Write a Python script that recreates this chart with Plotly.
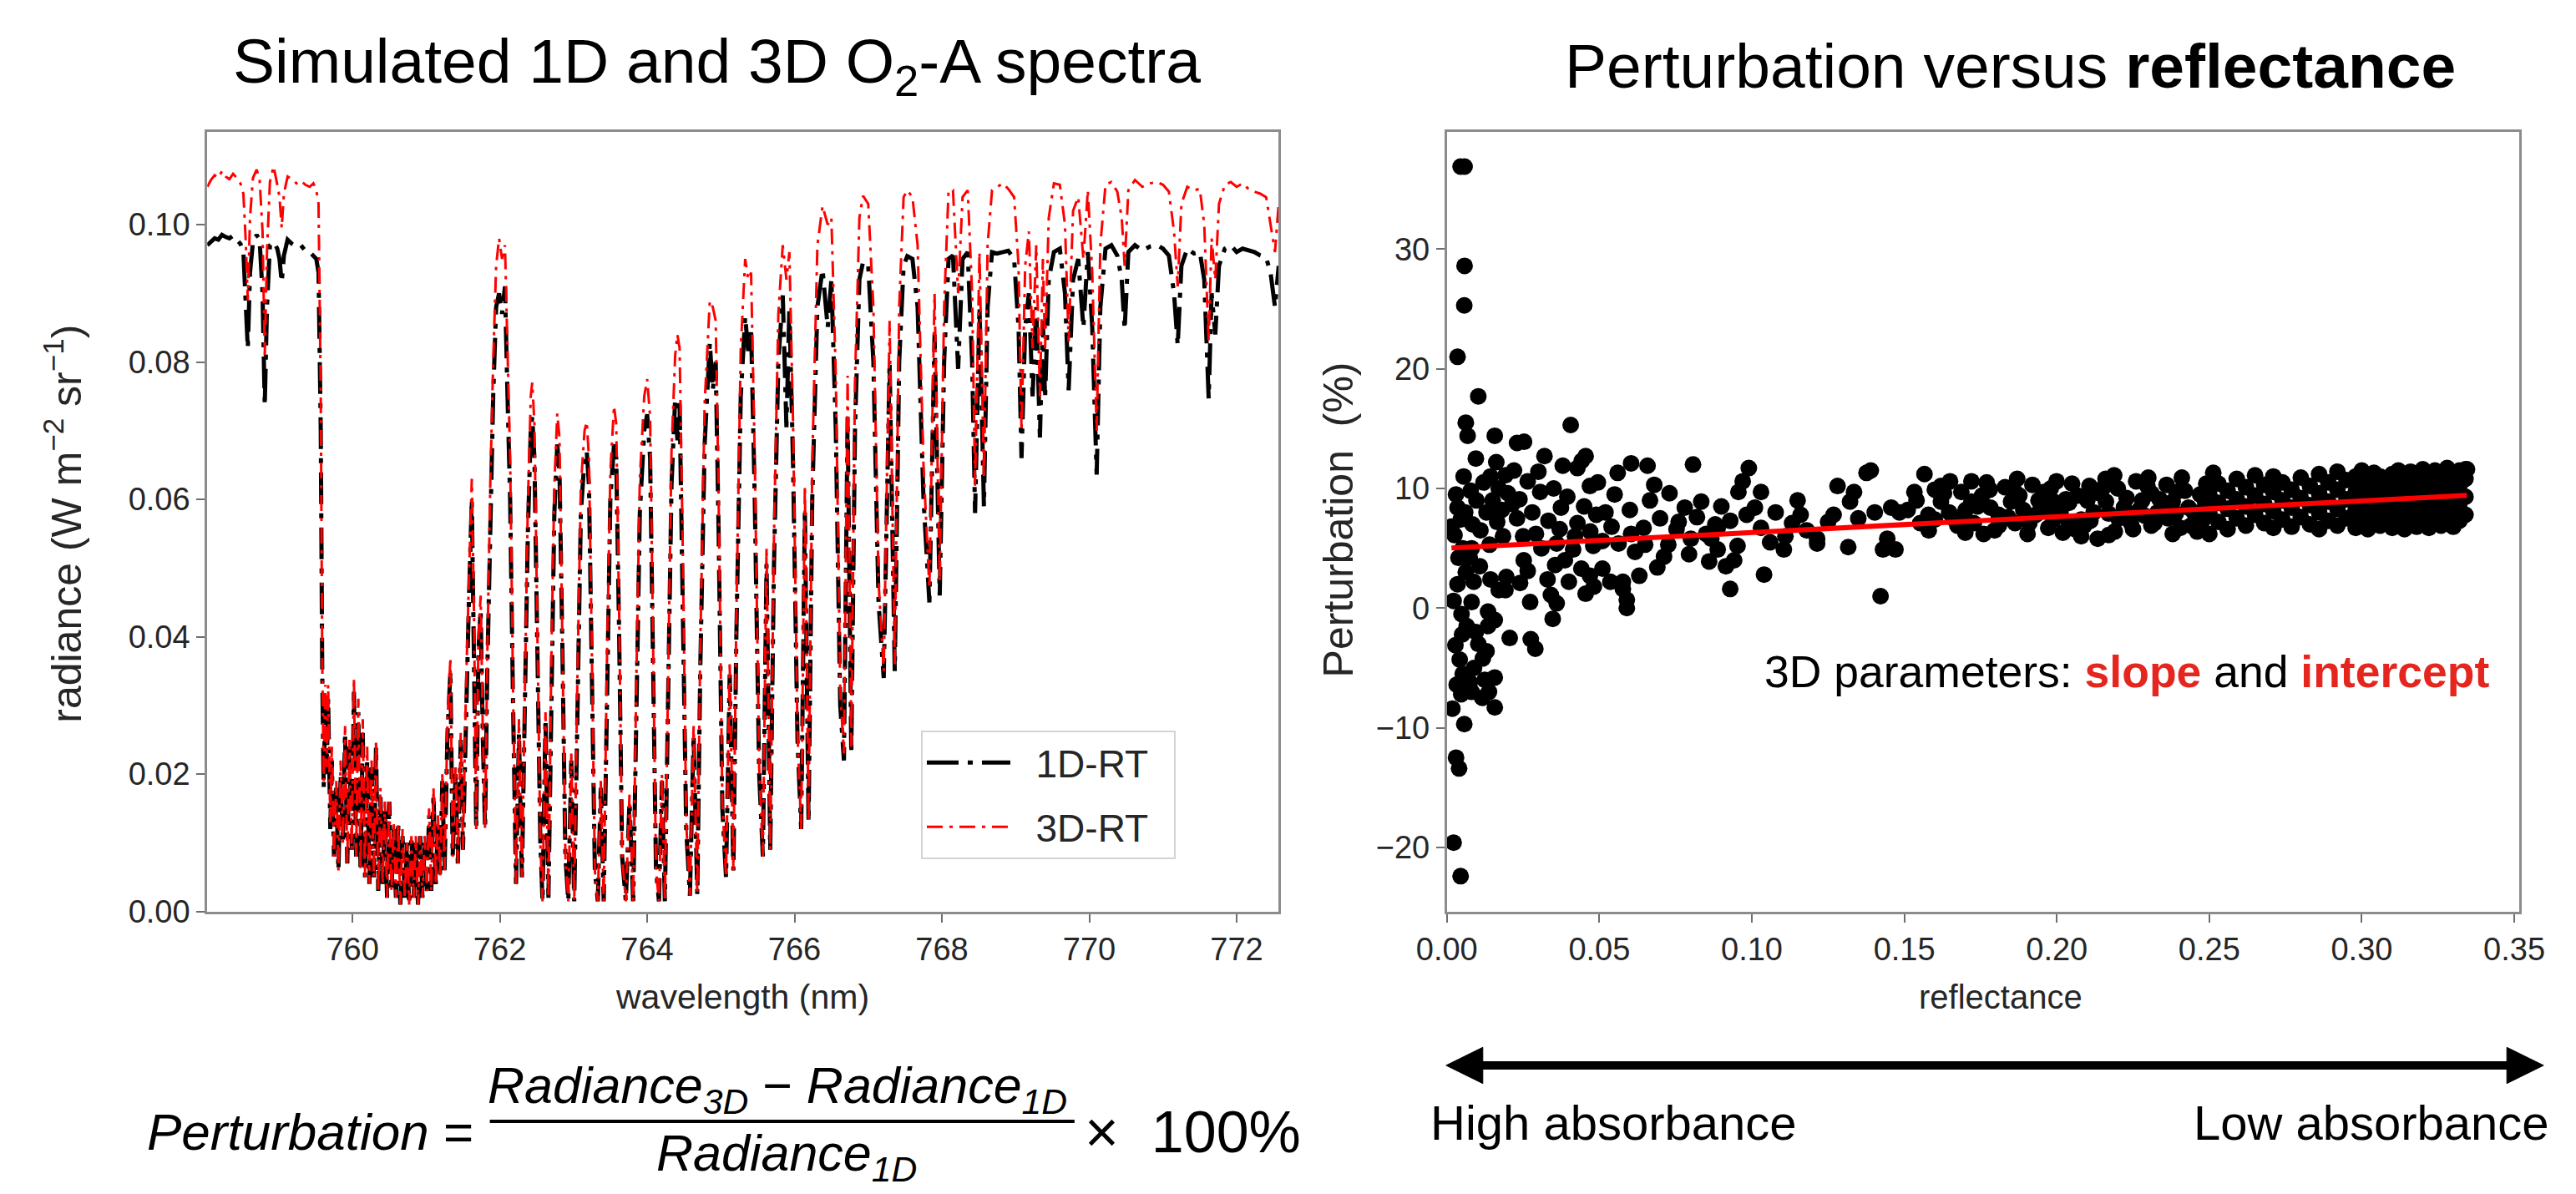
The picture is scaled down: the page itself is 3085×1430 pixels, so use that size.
import plotly.graph_objects as go

W, H = 3085, 1430
FONT = "Liberation Sans, Arial, Helvetica, sans-serif"


def px(x):
    return x / W


def py(y):
    return (H - y) / H


# ---------------- Spectrum data ----------------
# Segment A: continuum before the band head
wl_a = [758.03, 758.08, 758.13, 758.18, 758.23, 758.28, 758.33, 758.38, 758.43, 758.48,
        758.52, 758.55, 758.58, 758.61, 758.65, 758.70, 758.74, 758.78, 758.81, 758.84,
        758.88, 758.93, 758.98, 759.01, 759.04, 759.07, 759.12, 759.18, 759.24, 759.30,
        759.36, 759.42, 759.47, 759.51, 759.54]
r1d_a = [0.0970, 0.0975, 0.0980, 0.0978, 0.0985, 0.0982, 0.0980, 0.0984, 0.0978, 0.0972,
         0.0960, 0.0900, 0.0820, 0.0930, 0.0975, 0.0985, 0.0978, 0.0900, 0.0736, 0.0880,
         0.0970, 0.0975, 0.0965, 0.0950, 0.0916, 0.0955, 0.0978, 0.0972, 0.0968, 0.0970,
         0.0962, 0.0960, 0.0955, 0.0950, 0.0930]
r3d_a = [0.1055, 0.1065, 0.1072, 0.1068, 0.1078, 0.1070, 0.1066, 0.1074, 0.1068, 0.1060,
         0.1045, 0.0980, 0.0890, 0.1010, 0.1068, 0.1080, 0.1066, 0.0990, 0.0810, 0.0960,
         0.1062, 0.1085, 0.1058, 0.1040, 0.0995, 0.1045, 0.1070, 0.1066, 0.1060, 0.1064,
         0.1058, 0.1055, 0.1060, 0.1050, 0.1030]

# Segment B: R-branch (759.6 - 762.2 nm)
wl_b = [759.57, 759.59, 759.61, 759.63, 759.65, 759.67, 759.70, 759.72, 759.75, 759.78,
        759.81, 759.84, 759.87, 759.90, 759.93, 759.96, 759.99, 760.02, 760.05, 760.08,
        760.11, 760.14, 760.17, 760.20, 760.23, 760.26, 760.29, 760.32, 760.35, 760.38,
        760.41, 760.44, 760.47, 760.50, 760.53, 760.56, 760.59, 760.62, 760.65, 760.68,
        760.71, 760.74, 760.77, 760.80, 760.83, 760.86, 760.89, 760.92, 760.95, 760.98,
        761.01, 761.04, 761.07, 761.10, 761.13, 761.16, 761.19, 761.22, 761.25, 761.29,
        761.33, 761.36, 761.40, 761.43, 761.47, 761.50, 761.54, 761.58, 761.62, 761.65,
        761.68, 761.71, 761.74, 761.77, 761.80, 761.83, 761.87, 761.91, 761.95, 761.99,
        762.03, 762.07, 762.10, 762.14, 762.18, 762.22]
r1d_b = [0.070, 0.035, 0.018, 0.030, 0.020, 0.031, 0.012, 0.022, 0.008, 0.018,
         0.006, 0.020, 0.010, 0.026, 0.007, 0.024, 0.009, 0.032, 0.008, 0.029,
         0.006, 0.026, 0.005, 0.022, 0.004, 0.021, 0.005, 0.024, 0.003, 0.017,
         0.004, 0.015, 0.002, 0.016, 0.003, 0.012, 0.002, 0.013, 0.001, 0.011,
         0.002, 0.010, 0.001, 0.011, 0.002, 0.010, 0.001, 0.011, 0.002, 0.010,
         0.003, 0.014, 0.003, 0.017, 0.004, 0.013, 0.005, 0.019, 0.006, 0.026,
         0.035, 0.008, 0.020, 0.007, 0.025, 0.009, 0.030, 0.045, 0.060, 0.040,
         0.012, 0.038, 0.044, 0.025, 0.012, 0.035, 0.058, 0.075, 0.088, 0.090,
         0.087, 0.091, 0.077, 0.060, 0.030, 0.004]
r3d_b = [0.075, 0.037, 0.019, 0.033, 0.021, 0.033, 0.013, 0.024, 0.008, 0.019,
         0.006, 0.022, 0.010, 0.027, 0.007, 0.025, 0.009, 0.034, 0.008, 0.031,
         0.006, 0.028, 0.005, 0.024, 0.004, 0.022, 0.005, 0.025, 0.003, 0.018,
         0.004, 0.016, 0.002, 0.016, 0.003, 0.013, 0.002, 0.013, 0.001, 0.012,
         0.002, 0.010, 0.001, 0.011, 0.002, 0.011, 0.001, 0.011, 0.002, 0.011,
         0.003, 0.015, 0.003, 0.018, 0.004, 0.014, 0.005, 0.020, 0.006, 0.028,
         0.037, 0.008, 0.021, 0.007, 0.026, 0.009, 0.032, 0.048, 0.063, 0.043,
         0.012, 0.040, 0.046, 0.026, 0.012, 0.037, 0.062, 0.080, 0.094, 0.098,
         0.095, 0.097, 0.085, 0.066, 0.032, 0.004]

# Segment C: P-branch doublets and weak lines (762.26 - 772.57 nm)
wl_c = [762.26, 762.30, 762.34, 762.38, 762.42, 762.44, 762.47, 762.51, 762.55, 762.58,
        762.62, 762.66, 762.70, 762.74, 762.78, 762.81, 762.85, 762.89, 762.93, 762.97,
        763.01, 763.05, 763.10, 763.15, 763.18, 763.21, 763.25, 763.29, 763.33, 763.37,
        763.41, 763.45, 763.50, 763.55, 763.58, 763.62, 763.66, 763.71, 763.76, 763.81,
        763.85, 763.90, 763.96, 764.00, 764.04, 764.08, 764.12, 764.16, 764.20, 764.24,
        764.28, 764.33, 764.38, 764.41, 764.44, 764.48, 764.53, 764.58, 764.63, 764.68,
        764.72, 764.78, 764.85, 764.89, 764.93, 764.97, 765.02, 765.07, 765.12, 765.17,
        765.21, 765.27, 765.33, 765.37, 765.41, 765.46, 765.52, 765.57, 765.62, 765.67,
        765.72, 765.78, 765.84, 765.89, 765.93, 765.98, 766.04, 766.09, 766.14, 766.19,
        766.24, 766.31, 766.38, 766.45, 766.50, 766.56, 766.62, 766.67, 766.72, 766.77,
        766.82, 766.88, 766.93, 767.00, 767.07, 767.14, 767.21, 767.29, 767.36, 767.42,
        767.48, 767.53, 767.60, 767.67, 767.75, 767.83, 767.90, 767.97, 768.03, 768.09,
        768.15, 768.22, 768.28, 768.35, 768.41, 768.45, 768.51, 768.57, 768.62, 768.68,
        768.75, 768.83, 768.90, 768.98, 769.04, 769.08, 769.13, 769.18, 769.23, 769.28,
        769.33, 769.37, 769.40, 769.45, 769.52, 769.60, 769.67, 769.72, 769.78, 769.85,
        769.92, 769.98, 770.04, 770.10, 770.15, 770.22, 770.30, 770.38, 770.44, 770.48,
        770.53, 770.62, 770.72, 770.82, 770.92, 771.00, 771.08, 771.15, 771.20, 771.25,
        771.33, 771.42, 771.50, 771.56, 771.62, 771.66, 771.71, 771.76, 771.84, 771.92,
        772.00, 772.08, 772.16, 772.24, 772.32, 772.40, 772.46, 772.52, 772.57]
r1d_c = [0.026, 0.005, 0.030, 0.055, 0.070, 0.072, 0.066, 0.040, 0.010, 0.0015,
         0.028, 0.002, 0.035, 0.058, 0.068, 0.064, 0.038, 0.008, 0.0015, 0.022,
         0.0015, 0.030, 0.058, 0.066, 0.067, 0.062, 0.035, 0.006, 0.0015, 0.018,
         0.0015, 0.032, 0.060, 0.068, 0.066, 0.040, 0.008, 0.0015, 0.016, 0.0015,
         0.030, 0.058, 0.070, 0.0724, 0.066, 0.038, 0.006, 0.0015, 0.019, 0.0015,
         0.030, 0.062, 0.0747, 0.0686, 0.074, 0.050, 0.012, 0.0023, 0.0257, 0.0025,
         0.035, 0.068, 0.0828, 0.0759, 0.080, 0.055, 0.015, 0.005, 0.0345, 0.006,
         0.040, 0.075, 0.0866, 0.0816, 0.085, 0.060, 0.020, 0.008, 0.0506, 0.009,
         0.050, 0.080, 0.0897, 0.0705, 0.088, 0.065, 0.025, 0.012, 0.0586, 0.013,
         0.060, 0.088, 0.0935, 0.085, 0.092, 0.070, 0.030, 0.022, 0.072, 0.023,
         0.070, 0.092, 0.0946, 0.094, 0.080, 0.045, 0.034, 0.080, 0.035, 0.080,
         0.094, 0.0954, 0.095, 0.088, 0.060, 0.045, 0.084, 0.046, 0.080, 0.095,
         0.0955, 0.079, 0.095, 0.096, 0.080, 0.058, 0.088, 0.059, 0.088, 0.096,
         0.0958, 0.096, 0.0962, 0.095, 0.085, 0.066, 0.085, 0.090, 0.075, 0.088,
         0.069, 0.086, 0.0747, 0.092, 0.096, 0.0965, 0.090, 0.0759, 0.092, 0.095,
         0.085, 0.096, 0.085, 0.0636, 0.088, 0.0965, 0.097, 0.0955, 0.092, 0.0847,
         0.096, 0.097, 0.0962, 0.0968, 0.097, 0.0965, 0.0955, 0.090, 0.0824, 0.094,
         0.0965, 0.0958, 0.096, 0.092, 0.0747, 0.090, 0.084, 0.094, 0.0965, 0.097,
         0.096, 0.0965, 0.0962, 0.096, 0.0955, 0.0952, 0.093, 0.088, 0.094]
r3d_c = [0.028, 0.005, 0.032, 0.059, 0.075, 0.077, 0.071, 0.043, 0.010, 0.0015,
         0.029, 0.002, 0.037, 0.062, 0.0725, 0.069, 0.041, 0.008, 0.0015, 0.023,
         0.0015, 0.032, 0.062, 0.070, 0.0713, 0.066, 0.037, 0.006, 0.0015, 0.019,
         0.0015, 0.034, 0.064, 0.0736, 0.071, 0.043, 0.008, 0.0015, 0.017, 0.0015,
         0.032, 0.063, 0.075, 0.0775, 0.072, 0.041, 0.006, 0.0015, 0.020, 0.0015,
         0.032, 0.067, 0.081, 0.084, 0.082, 0.055, 0.013, 0.0023, 0.027, 0.0025,
         0.038, 0.074, 0.0889, 0.088, 0.086, 0.060, 0.016, 0.005, 0.036, 0.006,
         0.043, 0.082, 0.095, 0.092, 0.093, 0.066, 0.021, 0.008, 0.053, 0.009,
         0.054, 0.087, 0.097, 0.092, 0.096, 0.071, 0.026, 0.012, 0.062, 0.013,
         0.065, 0.097, 0.1027, 0.100, 0.101, 0.078, 0.032, 0.023, 0.078, 0.024,
         0.077, 0.101, 0.1042, 0.103, 0.088, 0.048, 0.035, 0.086, 0.036, 0.088,
         0.104, 0.105, 0.104, 0.097, 0.065, 0.047, 0.090, 0.048, 0.088, 0.105,
         0.105, 0.090, 0.104, 0.105, 0.090, 0.062, 0.096, 0.063, 0.097, 0.105,
         0.1055, 0.106, 0.1052, 0.104, 0.094, 0.070, 0.094, 0.099, 0.082, 0.097,
         0.075, 0.095, 0.082, 0.101, 0.106, 0.1058, 0.100, 0.083, 0.102, 0.104,
         0.095, 0.105, 0.093, 0.070, 0.097, 0.1058, 0.1062, 0.1048, 0.101, 0.094,
         0.105, 0.1065, 0.1055, 0.106, 0.1062, 0.1058, 0.1048, 0.099, 0.091, 0.103,
         0.1055, 0.105, 0.1052, 0.100, 0.083, 0.098, 0.092, 0.103, 0.1058, 0.1062,
         0.1055, 0.106, 0.1052, 0.1048, 0.1045, 0.104, 0.100, 0.096, 0.103]

wavelength = wl_a + wl_b + wl_c
radiance_1d = r1d_a + r1d_b + r1d_c
radiance_3d = r3d_a + r3d_b + r3d_c
assert len(wavelength) == len(radiance_1d) == len(radiance_3d)

wl_ticks = [760, 762, 764, 766, 768, 770, 772]
rad_ticks = [0.00, 0.02, 0.04, 0.06, 0.08, 0.10]

# ---------------- Scatter data ----------------
refl_edge = [0.0045, 0.0058, 0.0058, 0.0057, 0.0035, 0.0062, 0.0068, 0.0055, 0.0035, 0.0045,
             0.0025, 0.0052, 0.0038, 0.0062, 0.0022, 0.0048, 0.0065, 0.0028, 0.0042, 0.0052,
             0.0018, 0.0057, 0.0030, 0.0040, 0.0022, 0.0045, 0.0035, 0.0015, 0.0030, 0.0060,
             0.0050, 0.0032, 0.0047]
pert_edge = [36.9, 36.9, 28.6, 25.3, 21.0, 15.5, 14.4, 11.0, 8.4, 7.4,
             6.1, 5.0, 4.2, 3.0, 0.6, -0.5, -1.5, -3.1, -4.3, -5.5,
             -8.4, -9.7, -12.5, -13.4, -19.6, -22.4, 2.0, 6.8, 9.5, 8.0,
             -2.2, -6.4, -7.2]

refl_low = [0.0103, 0.0157, 0.0162, 0.0143, 0.0170, 0.0097, 0.0130, 0.0084, 0.0184, 0.0081,
            0.0108, 0.0143, 0.0170, 0.0081, 0.0157, 0.0135, 0.0103, 0.0130, 0.0089, 0.0124,
            0.0157, 0.0081, 0.0116, 0.0157, 0.0206, 0.0192, 0.0195, 0.0120, 0.0095, 0.0150,
            0.0180, 0.0110, 0.0075, 0.0140, 0.0165, 0.0192, 0.0200, 0.0078, 0.0088, 0.0135,
            0.0095, 0.0118, 0.0075, 0.0138]
pert_low = [17.7, 14.4, 12.2, 11.0, 10.0, 9.0, 8.0, 7.0, 6.0, 5.0,
            3.5, 2.4, 1.5, 0.5, -1.0, -1.5, -3.0, -3.6, -5.0, -6.0,
            -5.8, -7.0, -7.5, -8.3, -2.5, 1.5, 2.6, 10.5, 12.5, 9.0,
            8.2, 6.5, 4.2, 5.3, 7.2, 11.1, 9.6, 9.8, 2.2, -0.3,
            -2.0, -4.2, -6.2, -7.0]

refl_mid = [0.0290, 0.0275, 0.0347, 0.0360, 0.0341, 0.0406, 0.0320, 0.0230, 0.0253, 0.0455,
            0.0428, 0.0442, 0.0469, 0.0265, 0.0306, 0.0238, 0.0374, 0.0333, 0.0428, 0.0292,
            0.0360, 0.0414, 0.0387, 0.0441, 0.0469, 0.0482, 0.0252, 0.0265, 0.0220, 0.0280,
            0.0350, 0.0395, 0.0450, 0.0310, 0.0230, 0.0250, 0.0330, 0.0370, 0.0420, 0.0480,
            0.0490, 0.0400, 0.0455, 0.0215, 0.0300, 0.0380, 0.0355, 0.0273, 0.0240, 0.0495,
            0.0470]
pert_mid = [-3.4, -2.6, -0.9, 0.4, 1.1, 15.3, 12.7, 13.8, 13.9, 12.7,
            11.7, 12.3, 10.2, 10.6, 9.7, 9.1, 8.4, 7.3, 7.1, 6.2,
            5.4, 4.9, 4.0, 3.3, 2.7, 1.8, 4.0, 3.1, 11.5, 8.0,
            10.0, 9.3, 8.5, 5.0, 7.5, 6.0, 2.4, 6.6, 6.0, 5.2,
            7.8, 2.2, 1.2, 8.7, 11.4, 11.9, 3.6, 0.5, 2.1, 10.5,
            6.4]

refl_high = [0.0658, 0.0604, 0.0560, 0.0807, 0.0990, 0.0970, 0.0956, 0.0666, 0.0780, 0.0834,
             0.0820, 0.0604, 0.0645, 0.0699, 0.0753, 0.0563, 0.0617, 0.0712, 0.0726, 0.0794,
             0.0510, 0.0536, 0.0577, 0.0631, 0.0590, 0.0590, 0.0577, 0.0929, 0.0915, 0.0942,
             0.0888, 0.0867, 0.0888, 0.0929, 0.0983, 0.0953, 0.0880, 0.0520, 0.0550, 0.0600,
             0.0540, 0.0680, 0.0730, 0.0760, 0.0850, 0.0900, 0.0690, 0.0800, 0.0860, 0.0510,
             0.0650,
             0.1030, 0.1010, 0.1040, 0.1030, 0.1078, 0.1105, 0.1132, 0.1160, 0.1214, 0.1214,
             0.1268, 0.1281, 0.1322, 0.1316, 0.1349, 0.1376, 0.1390, 0.1335, 0.1422, 0.1430,
             0.1471, 0.1444, 0.1403, 0.1457, 0.1484, 0.1110, 0.1180, 0.1250, 0.1060, 0.1150]
pert_high = [11.9, 12.1, 11.3, 12.0, 11.7, 10.6, 9.7, 9.0, 8.4, 8.9,
             7.6, 6.2, 6.7, 7.5, 6.6, 5.4, 4.7, 4.3, 5.3, 4.5,
             3.3, 2.2, 2.2, 2.7, 0.0, 0.7, 1.6, 1.6, 3.5, 4.0,
             4.9, 5.8, 6.7, 7.3, 7.8, 5.2, 7.0, 8.0, 9.5, 8.2,
             6.8, 10.3, 9.6, 7.2, 6.2, 8.5, 3.4, 5.8, 3.9, 5.6,
             5.3,
             9.7, 8.4, 2.8, 6.7, 8.0, 4.9, 7.1, 7.8, 5.8, 5.4,
             7.8, 10.2, 8.9, 5.1, 7.5, 11.3, 11.5, 9.7, 1.0, 4.9,
             4.9, 5.8, 8.0, 8.4, 8.0, 6.0, 6.5, 7.2, 5.5, 9.0]

refl_bright = [0.1511, 0.1533, 0.1566, 0.1552, 0.1579, 0.1620, 0.1620, 0.1647, 0.1674, 0.1687,
               0.1701, 0.1728, 0.1755, 0.1782, 0.1796, 0.1809, 0.1850, 0.1863, 0.1877, 0.1904,
               0.1931, 0.1958, 0.1972, 0.1999, 0.2012, 0.2040, 0.2067, 0.2080, 0.2107, 0.2121,
               0.2134, 0.2161, 0.2188, 0.2202, 0.2229, 0.2243, 0.2270, 0.2297, 0.2310, 0.2337,
               0.2365, 0.2392, 0.2405, 0.2432, 0.2459, 0.2486,
               0.1580, 0.1660, 0.1720, 0.1760, 0.1830, 0.1890, 0.1940, 0.1990, 0.2030, 0.2060,
               0.2110, 0.2150, 0.2190, 0.2220, 0.2260, 0.2290, 0.2330, 0.2360, 0.2390, 0.2420,
               0.2460, 0.2490, 0.1630, 0.1780, 0.1920, 0.2050, 0.2170, 0.2310, 0.2440,
               0.1540, 0.1600, 0.1650, 0.1690, 0.1740, 0.1770, 0.1810, 0.1840, 0.1870, 0.1910,
               0.1950, 0.1980, 0.2020, 0.2040, 0.2080, 0.2100, 0.2140, 0.2170, 0.2200, 0.2250,
               0.2280, 0.2320, 0.2350, 0.2380, 0.2410, 0.2450, 0.2480, 0.1600, 0.1700, 0.1860,
               0.1970, 0.2090, 0.2230, 0.2380, 0.2470, 0.1720, 0.1990, 0.2160, 0.2300]
pert_bright = [8.2, 9.7, 11.2, 7.1, 7.8, 10.2, 8.9, 8.0, 6.9, 9.7,
               8.2, 7.1, 9.4, 8.4, 6.5, 7.8, 8.9, 7.1, 9.4, 6.2,
               7.8, 9.7, 6.7, 10.6, 8.0, 7.1, 9.4, 6.0, 10.2, 8.0,
               5.8, 8.9, 11.1, 7.5, 9.2, 7.1, 8.2, 10.2, 6.9, 9.1,
               7.5, 9.7, 6.7, 8.4, 7.3, 8.9,
               6.5, 7.5, 8.9, 6.2, 10.1, 8.2, 9.0, 7.4, 9.1, 6.6,
               7.3, 10.0, 6.4, 8.4, 10.6, 7.7, 8.0, 10.3, 7.9, 9.8,
               6.4, 10.4, 9.6, 9.9, 10.3, 10.4, 6.1, 9.6, 6.9,
               9.0, 7.4, 10.6, 7.6, 8.5, 10.5, 6.9, 7.6, 10.8, 7.1,
               8.6, 10.0, 6.3, 8.8, 7.4, 9.0, 9.6, 7.9, 10.0, 6.6,
               9.0, 7.1, 8.6, 6.2, 10.9, 8.0, 7.4, 9.9, 6.3, 9.8,
               8.2, 6.9, 8.0, 8.9, 9.5, 10.6, 8.9, 10.8, 10.9]

refl_top = [0.2513, 0.2500, 0.2500, 0.2500, 0.2530, 0.2530, 0.2530, 0.2560, 0.2560, 0.2560,
            0.2590, 0.2590, 0.2590, 0.2620, 0.2620, 0.2620, 0.2650, 0.2650, 0.2650, 0.2680,
            0.2680, 0.2680, 0.2710, 0.2710, 0.2710, 0.2710, 0.2740, 0.2740, 0.2740, 0.2770,
            0.2770, 0.2770, 0.2800, 0.2800, 0.2800, 0.2830, 0.2830, 0.2830, 0.2860, 0.2860,
            0.2860, 0.2860, 0.2890, 0.2890, 0.2890, 0.2920, 0.2920, 0.2920, 0.2920, 0.2950,
            0.2950, 0.2950, 0.2980, 0.2980, 0.2980, 0.2980, 0.3000, 0.3000, 0.3000, 0.3000,
            0.3020, 0.3020, 0.3020, 0.3020, 0.3040, 0.3040, 0.3040, 0.3040, 0.3060, 0.3060,
            0.3060, 0.3060, 0.3080, 0.3080, 0.3080, 0.3100, 0.3100, 0.3100, 0.3100, 0.3120,
            0.3120, 0.3120, 0.3120, 0.3140, 0.3140, 0.3140, 0.3140, 0.3160, 0.3160, 0.3160,
            0.3160, 0.3180, 0.3180, 0.3180, 0.3180, 0.3200, 0.3200, 0.3200, 0.3200, 0.3220,
            0.3220, 0.3220, 0.3220, 0.3240, 0.3240, 0.3240, 0.3240, 0.3260, 0.3260, 0.3260,
            0.3260, 0.3280, 0.3280, 0.3280, 0.3280, 0.3300, 0.3300, 0.3300, 0.3300, 0.3320,
            0.3320, 0.3320, 0.3320, 0.3340, 0.3340, 0.3340, 0.3340, 0.3345]
pert_top = [11.3, 6.2, 8.0, 9.5, 7.2, 8.8, 10.4, 6.6, 8.3, 9.8,
            7.5, 9.1, 10.8, 6.9, 8.5, 10.1, 7.8, 9.4, 11.1, 7.1,
            8.7, 10.3, 6.7, 8.1, 9.7, 11.0, 7.4, 9.0, 10.5, 6.8,
            8.4, 9.9, 7.6, 9.2, 10.9, 7.0, 8.6, 10.2, 6.6, 8.0,
            9.6, 11.2, 7.3, 8.9, 10.5, 6.9, 8.3, 9.9, 11.4, 7.5,
            9.1, 10.7, 6.7, 8.2, 9.7, 11.0, 7.2, 8.7, 10.3, 11.5,
            6.6, 7.9, 9.4, 10.8, 7.4, 8.9, 10.4, 11.3, 6.9, 8.3,
            9.8, 11.0, 7.6, 9.1, 10.6, 6.7, 8.1, 9.5, 11.2, 7.2,
            8.6, 10.1, 11.5, 6.6, 7.9, 9.3, 10.7, 7.4, 8.8, 10.3,
            11.4, 6.8, 8.2, 9.7, 11.0, 7.5, 9.0, 10.5, 11.6, 6.7,
            8.1, 9.6, 11.1, 7.2, 8.6, 10.1, 11.5, 6.9, 8.3, 9.8,
            11.2, 7.5, 8.9, 10.4, 11.7, 6.8, 8.2, 9.6, 11.0, 7.3,
            8.7, 10.2, 11.5, 7.8, 9.3, 10.8, 11.6, 11.6]

reflectance = refl_edge + refl_low + refl_mid + refl_high + refl_bright + refl_top
perturbation = pert_edge + pert_low + pert_mid + pert_high + pert_bright + pert_top
assert len(reflectance) == len(perturbation)

fit_slope = 13.2      # % per unit reflectance
fit_intercept = 5.0   # %

refl_ticks = [0.00, 0.05, 0.10, 0.15, 0.20, 0.25, 0.30, 0.35]
pert_ticks = [-20, -10, 0, 10, 20, 30]

# ---------------- Figure ----------------
NB = "\u00a0"
fig = go.Figure()
fig.add_trace(go.Scatter(
    x=wavelength, y=radiance_1d, mode="lines", name=NB * 2 + "1D-RT" + NB * 2,
    legendgroup="a",
    line=dict(color="#000000", width=5, dash="38px,11px,6px,11px"),
    xaxis="x", yaxis="y"))
fig.add_trace(go.Scatter(
    x=wavelength, y=radiance_3d, mode="lines", name=NB * 2 + "3D-RT" + NB * 2,
    legendgroup="b",
    line=dict(color="#ff0000", width=3, dash="19px,8px,4px,8px"),
    xaxis="x", yaxis="y"))
fig.add_trace(go.Scatter(
    x=reflectance, y=perturbation, mode="markers", name="perturbation",
    marker=dict(color="#000000", size=20, line=dict(width=0)),
    xaxis="x2", yaxis="y2", showlegend=False))
fit_x = [min(reflectance), max(reflectance)]
fit_y = [fit_intercept + fit_slope * v for v in fit_x]
fig.add_trace(go.Scatter(
    x=fit_x, y=fit_y, mode="lines", name="fit",
    line=dict(color="#ff0000", width=6),
    xaxis="x2", yaxis="y2", showlegend=False))

axis_style = dict(
    showline=True, mirror=True, linecolor="#8c8c8c", linewidth=3,
    ticks="outside", ticklen=10, tickwidth=2, tickcolor="#6e6e6e",
    showgrid=False, zeroline=False,
    tickfont=dict(family=FONT, size=38, color="#262626"),
)

y_dom = [py(1108), py(160.7)]
fig.update_layout(
    width=W, height=H,
    margin=dict(l=0, r=0, t=0, b=0),
    paper_bgcolor="white", plot_bgcolor="white",
    font=dict(family=FONT, color="#000000"),
    xaxis=dict(domain=[px(216), px(1528)], range=[758.03, 772.57],
               tickvals=wl_ticks, anchor="y", **axis_style),
    yaxis=dict(domain=y_dom, range=[0, 0.11345], tickvals=rad_ticks,
               tickformat=".2f", anchor="x", **axis_style),
    xaxis2=dict(domain=[px(1734), px(3046.7)], range=[0, 0.3515],
                tickvals=refl_ticks, tickformat=".2f", anchor="y2", **axis_style),
    yaxis2=dict(domain=y_dom, range=[-25.36, 39.77], tickvals=pert_ticks,
                anchor="x2", **axis_style),
    showlegend=True,
    legend=dict(x=px(1090), y=py(888), xanchor="left", yanchor="top",
                bgcolor="white", bordercolor="#d4d4d4", borderwidth=2,
                font=dict(family=FONT, size=46, color="#262626"),
                itemwidth=100, tracegroupgap=14),
)

ann = []


def text(x, y, s, size, xanchor="center", angle=0, color="#000000"):
    ann.append(dict(x=px(x), y=py(y), xref="paper", yref="paper", text=s,
                    showarrow=False, xanchor=xanchor, yanchor="middle",
                    textangle=angle,
                    font=dict(family=FONT, size=size, color=color)))


# Titles
text(840, 80, "Simulated 1D and 3D O<sub>2</sub>-A spectra", 75)
text(2424, 80, "Perturbation versus <b>reflectance</b>", 75)
# Axis titles
text(40, 637, "radiance (W m<sup>\u22122</sup> sr<sup>\u22121</sup>)", 50, angle=-90, color="#262626")
text(871, 1212, "wavelength (nm)", 41, color="#262626")
text(1601, 632, "Perturbation" + NB + " (%)", 50, angle=-90, color="#262626")
text(2412, 1212, "reflectance", 40, color="#262626")
# Parameters note
RED = "#e5261f"
text(3012, 816,
     "3D parameters: <b><span style='color:%s'>slope</span></b> and "
     "<b><span style='color:%s'>intercept</span></b>" % (RED, RED), 53.5, xanchor="right")
# Formula
text(140, 1376, "<i>Perturbation</i> =", 62, xanchor="left")
text(914, 1324, "<i>Radiance</i><sub><i>3D</i></sub> \u2212 <i>Radiance</i><sub><i>1D</i></sub>", 61)
text(925, 1406, "<i>Radiance</i><sub><i>1D</i></sub>", 61)
text(1288, 1376, "\u00d7" + NB * 2 + "100%", 70, xanchor="left")
# Absorbance labels
text(1712, 1365, "High absorbance", 58, xanchor="left")
text(3086, 1365, "Low absorbance", 58, xanchor="right")

fig.update_layout(annotations=ann)

shapes = [
    # fraction bar
    dict(type="line", xref="paper", yref="paper", x0=px(562), x1=px(1278),
         y0=py(1363), y1=py(1363), line=dict(color="#000000", width=4)),
    # arrow shaft
    dict(type="line", xref="paper", yref="paper", x0=px(1770), x1=px(3040),
         y0=py(1295), y1=py(1295), line=dict(color="#000000", width=10)),
    # left arrow head
    dict(type="path", xref="paper", yref="paper",
         path="M %f,%f L %f,%f L %f,%f Z" % (px(1733), py(1295), px(1778), py(1273),
                                             px(1778), py(1317)),
         fillcolor="#000000", line=dict(color="#000000", width=1)),
    # right arrow head
    dict(type="path", xref="paper", yref="paper",
         path="M %f,%f L %f,%f L %f,%f Z" % (px(3077), py(1295), px(3032), py(1273),
                                             px(3032), py(1317)),
         fillcolor="#000000", line=dict(color="#000000", width=1)),
]
fig.update_layout(shapes=shapes)

fig.write_html("out.html", config={"displayModeBar": False},
               post_script="document.body.style.margin='0';document.body.style.overflow='hidden';")
